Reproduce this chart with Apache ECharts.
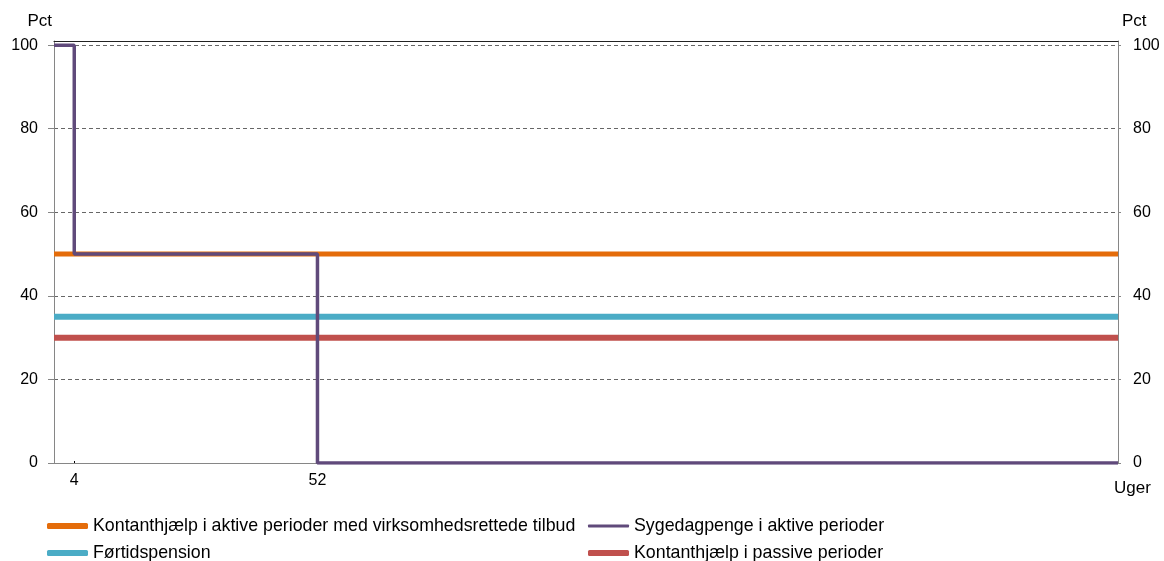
<!DOCTYPE html>
<html>
<head>
<meta charset="utf-8">
<script src="https://cdn.jsdelivr.net/npm/echarts@6/dist/echarts.min.js"></script>
<style>
  html, body { margin: 0; padding: 0; background: #fff; }
  #chart { width: 1164px; height: 561px; }
</style>
</head>
<body>
<div id="chart"></div>
<script>
    'use strict'

    /* Data */
    var weeksEnd = 210;
    var xTickWeeks = [4, 52];

    var names = [
        'Kontanthjælp i aktive perioder med virksomhedsrettede tilbud',
        'Sygedagpenge i aktive perioder',
        'Førtidspension',
        'Kontanthjælp i passive perioder'
    ];

    // step points [uge, pct]
    var kontantAktiv = [[0, 50], [210, 50]];
    var sygedagpenge = [[0, 100], [4, 100], [4, 50], [52, 50], [52, 0], [210, 0]];
    var fortidspension = [[0, 35], [210, 35]];
    var kontantPassiv = [[0, 30], [210, 30]];

    var colors = ['#E46C0A', '#604A7B', '#4BACC6', '#C0504D'];

    var font = "'Liberation Sans', Arial, sans-serif";

    var chart = echarts.init(document.getElementById('chart'));

    var yLabel = {
        fontSize: 16,
        fontFamily: font,
        color: '#000',
        showMaxLabel: false
    };

    /* one legend per item so each gets its own place and icon height */
    function legendItem(name, left, top, h) {
        return {
            left: left,
            top: top,
            itemWidth: 41,
            itemHeight: h,
            icon: 'roundRect',
            textStyle: { fontSize: 17.8, fontFamily: font, color: '#000', lineHeight: 20 },
            data: [name]
        };
    }

    chart.setOption({
        animation: false,
        grid: {
            left: 54,
            right: 46,
            top: 41,
            bottom: 98
        },
        graphic: [{
            type: 'text',
            left: 1122,
            top: 13,
            style: { text: 'Pct', fontSize: 17, fontFamily: font, fill: '#000' }
        }],
        xAxis: [{
            type: 'value',
            min: 0,
            max: weeksEnd,
            name: 'Uger',
            nameLocation: 'end',
            nameGap: -4,
            nameTextStyle: {
                fontSize: 17,
                fontFamily: font,
                color: '#000',
                verticalAlign: 'top',
                padding: [17, 0, 0, 0]
            },
            axisLine: { onZero: false, lineStyle: { color: '#868686', width: 1 } },
            axisTick: {
                inside: true,
                length: 2,
                lineStyle: { color: '#000' },
                customValues: xTickWeeks
            },
            axisLabel: {
                fontSize: 16,
                fontFamily: font,
                color: '#000',
                margin: 10,
                customValues: xTickWeeks
            },
            splitLine: { show: false }
        }, {
            type: 'value',
            position: 'top',
            min: 0,
            max: weeksEnd,
            axisLine: { show: true, onZero: false, lineStyle: { color: '#222', width: 1 } },
            axisTick: { show: false },
            axisLabel: { show: false },
            splitLine: { show: false }
        }],
        yAxis: [{
            type: 'value',
            min: 0,
            max: 101,
            interval: 20,
            name: 'Pct',
            nameLocation: 'end',
            nameGap: 11,
            nameTextStyle: {
                fontSize: 17,
                fontFamily: font,
                color: '#000',
                align: 'right',
                padding: [0, 2, 0, 0]
            },
            axisLine: { show: true, onZero: false, lineStyle: { color: '#868686' } },
            axisTick: { show: true, length: 6, lineStyle: { color: '#868686' } },
            axisLabel: Object.assign({ margin: 16 }, yLabel),
            splitLine: {
                show: true,
                showMaxLine: false,
                lineStyle: { color: '#666', type: [4, 3], width: 1 }
            }
        }, {
            type: 'value',
            position: 'right',
            min: 0,
            max: 101,
            interval: 20,
            axisLine: { show: true, onZero: false, lineStyle: { color: '#868686' } },
            axisTick: { show: true, length: 3, lineStyle: { color: '#868686' } },
            axisLabel: Object.assign({ margin: 15 }, yLabel),
            splitLine: { show: false }
        }],
        legend: [
            legendItem(names[0], 42, 511, 6),
            legendItem(names[2], 42, 538, 6),
            legendItem(names[1], 583, 511, 3),
            legendItem(names[3], 583, 538, 6)
        ],
        series: [{
            name: names[0],
            type: 'line',
            symbol: 'none',
            color: colors[0],
            lineStyle: { width: 5 },
            z: 2,
            data: kontantAktiv
        }, {
            name: names[2],
            type: 'line',
            symbol: 'none',
            color: colors[2],
            lineStyle: { width: 6 },
            z: 2,
            data: fortidspension
        }, {
            name: names[3],
            type: 'line',
            symbol: 'none',
            color: colors[3],
            lineStyle: { width: 6 },
            z: 2,
            data: kontantPassiv
        }, {
            name: names[1],
            type: 'line',
            symbol: 'none',
            color: colors[1],
            lineStyle: { width: 3.5 },
            z: 3,
            data: sygedagpenge
        }]
    });
</script>
</body>
</html>
